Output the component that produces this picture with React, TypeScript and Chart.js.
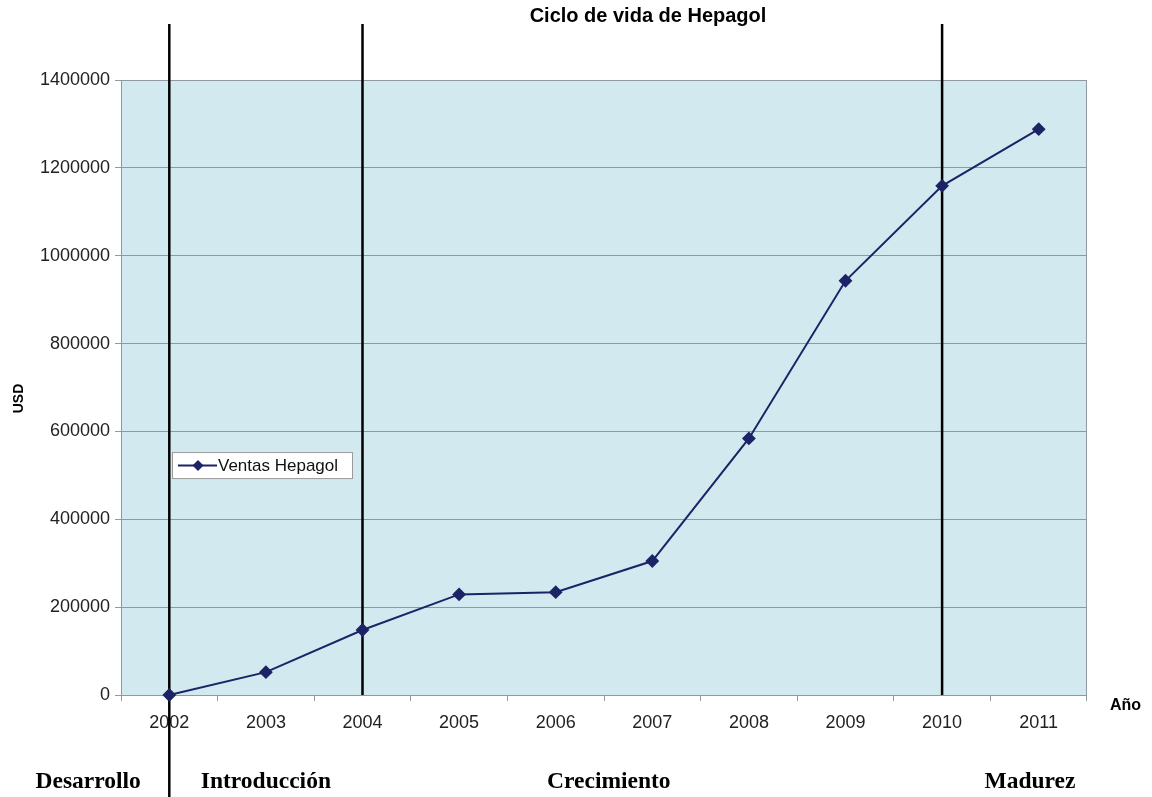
import React, { useEffect, useRef } from "react";
import { Chart, registerables } from "chart.js";

Chart.register(...registerables);

const years = ["2002", "2003", "2004", "2005", "2006", "2007", "2008", "2009", "2010", "2011"];
const ventas = [0, 52000, 148000, 229000, 234000, 305000, 584000, 943000, 1159000, 1288000];
const phaseLines = ["2002", "2004", "2010"];
const phaseLabels = ["Desarrollo", "Introducción", "Crecimiento", "Madurez"];
const phaseLabelAt = [-0.84, 1, 4.55, 8.91];
const chartTitle = "Ciclo de vida de Hepagol";
const seriesName = "Ventas Hepagol";
const yTitle = "USD";
const xTitle = "Año";

const LINE_COLOR = "#1c2366";
const PLOT_BG = "#d3e9f0";
const GRID = "#8e9aa0";
const SANS = "'Liberation Sans', Arial, sans-serif";

const decorPlugin = {
  id: "decor",
  beforeDraw(chart: any) {
    const { ctx, chartArea } = chart;
    ctx.save();
    ctx.fillStyle = "#ffffff";
    ctx.fillRect(0, 0, chart.width, chart.height);
    ctx.fillStyle = PLOT_BG;
    ctx.fillRect(chartArea.left, chartArea.top, chartArea.right - chartArea.left, chartArea.bottom - chartArea.top);
    ctx.restore();
  },
  beforeDatasetsDraw(chart: any) {
    const { ctx, chartArea } = chart;
    const x = chart.scales.x;
    ctx.save();
    ctx.strokeStyle = GRID;
    ctx.lineWidth = 1;
    ctx.strokeRect(chartArea.left + 0.5, chartArea.top + 0.5, chartArea.right - chartArea.left - 1, chartArea.bottom - chartArea.top);
    ctx.strokeStyle = "#000000";
    ctx.lineWidth = 2.5;
    phaseLines.forEach((y, i) => {
      const px = x.getPixelForValue(years.indexOf(y));
      ctx.beginPath();
      ctx.moveTo(px, chartArea.top - 56);
      ctx.lineTo(px, i === 0 ? chart.height : chartArea.bottom);
      ctx.stroke();
    });
    ctx.restore();
  },
  afterDraw(chart: any) {
    const { ctx, chartArea } = chart;
    const x = chart.scales.x;
    const y = chart.scales.y;
    ctx.save();
    // title
    ctx.fillStyle = "#000000";
    ctx.font = `bold 20px ${SANS}`;
    ctx.textAlign = "center";
    ctx.textBaseline = "middle";
    ctx.fillText(chartTitle, (chartArea.left + chartArea.right) / 2 + 44, 16);
    // y title
    ctx.font = `bold 14px ${SANS}`;
    ctx.save();
    ctx.translate(19, (chartArea.top + chartArea.bottom) / 2 + 11);
    ctx.rotate(-Math.PI / 2);
    ctx.fillText(yTitle, 0, 0);
    ctx.restore();
    // x title
    ctx.font = `bold 16px ${SANS}`;
    ctx.textAlign = "left";
    ctx.fillText(xTitle, chartArea.right + 23, chartArea.bottom + 11);
    // phase labels
    ctx.font = "bold 23.5px 'Liberation Serif', 'Times New Roman', serif";
    ctx.textAlign = "center";
    phaseLabels.forEach((t, i) => {
      const v = phaseLabelAt[i];
      const px = chartArea.left + (x.getPixelForValue(1) - x.getPixelForValue(0)) * (v + 0.5);
      ctx.fillText(t, px, chart.height - 15);
    });
    // legend
    const lx = chartArea.left + 51;
    const ly = y.getPixelForValue(553000);
    const lw = 180;
    const lh = 26;
    ctx.fillStyle = "#ffffff";
    ctx.fillRect(lx, ly, lw, lh);
    ctx.strokeStyle = "#9a9a9a";
    ctx.lineWidth = 1;
    ctx.strokeRect(lx + 0.5, ly + 0.5, lw, lh);
    const my = ly + lh / 2 + 0.5;
    ctx.strokeStyle = LINE_COLOR;
    ctx.lineWidth = 2;
    ctx.beginPath();
    ctx.moveTo(lx + 6, my);
    ctx.lineTo(lx + 45, my);
    ctx.stroke();
    ctx.fillStyle = LINE_COLOR;
    ctx.beginPath();
    const cx = lx + 26;
    ctx.moveTo(cx, my - 5.5);
    ctx.lineTo(cx + 5.5, my);
    ctx.lineTo(cx, my + 5.5);
    ctx.lineTo(cx - 5.5, my);
    ctx.closePath();
    ctx.fill();
    ctx.fillStyle = "#111111";
    ctx.font = `17px ${SANS}`;
    ctx.textAlign = "left";
    ctx.fillText(seriesName, lx + 46, my + 1);
    ctx.restore();
  },
};

export default function App() {
  const ref = useRef<HTMLCanvasElement>(null);
  useEffect(() => {
    document.body.style.margin = "0";
    const chart = new Chart(ref.current!, {
      type: "line",
      data: {
        labels: years,
        datasets: [
          {
            label: seriesName,
            data: ventas,
            borderColor: LINE_COLOR,
            backgroundColor: LINE_COLOR,
            borderWidth: 2,
            pointStyle: "rectRot",
            pointRadius: 5.5,
            pointBackgroundColor: LINE_COLOR,
            pointBorderColor: LINE_COLOR,
            tension: 0,
            clip: false as any,
          },
        ],
      },
      options: {
        animation: false,
        responsive: false,
        maintainAspectRatio: false,
        layout: { padding: { top: 80, right: 65, bottom: 0, left: 0 } },
        plugins: {
          legend: { display: false },
          title: { display: false },
          tooltip: { enabled: false },
        },
        scales: {
          x: {
            type: "category",
            offset: true,
            grid: {
              offset: true,
              drawOnChartArea: false,
              drawTicks: true,
              tickLength: 6,
              color: GRID,
            },
            border: { display: false },
            ticks: {
              color: "#222222",
              padding: 11,
              font: { family: SANS, size: 18 },
              maxRotation: 0,
            },
            afterFit: (s: any) => {
              s.height = 102;
            },
          },
          y: {
            min: 0,
            max: 1400000,
            ticks: {
              stepSize: 200000,
              color: "#222222",
              padding: 5,
              font: { family: SANS, size: 18 },
              callback: (v: any) => String(v),
            },
            grid: { color: GRID, tickLength: 6, drawTicks: true },
            border: { display: false },
            afterFit: (s: any) => {
              s.width = 121;
            },
          },
        },
      },
      plugins: [decorPlugin],
    });
    return () => chart.destroy();
  }, []);
  return (
    <div style={{ width: 1152, height: 797 }}>
      <canvas ref={ref} width={1152} height={797} style={{ display: "block" }} />
    </div>
  );
}
